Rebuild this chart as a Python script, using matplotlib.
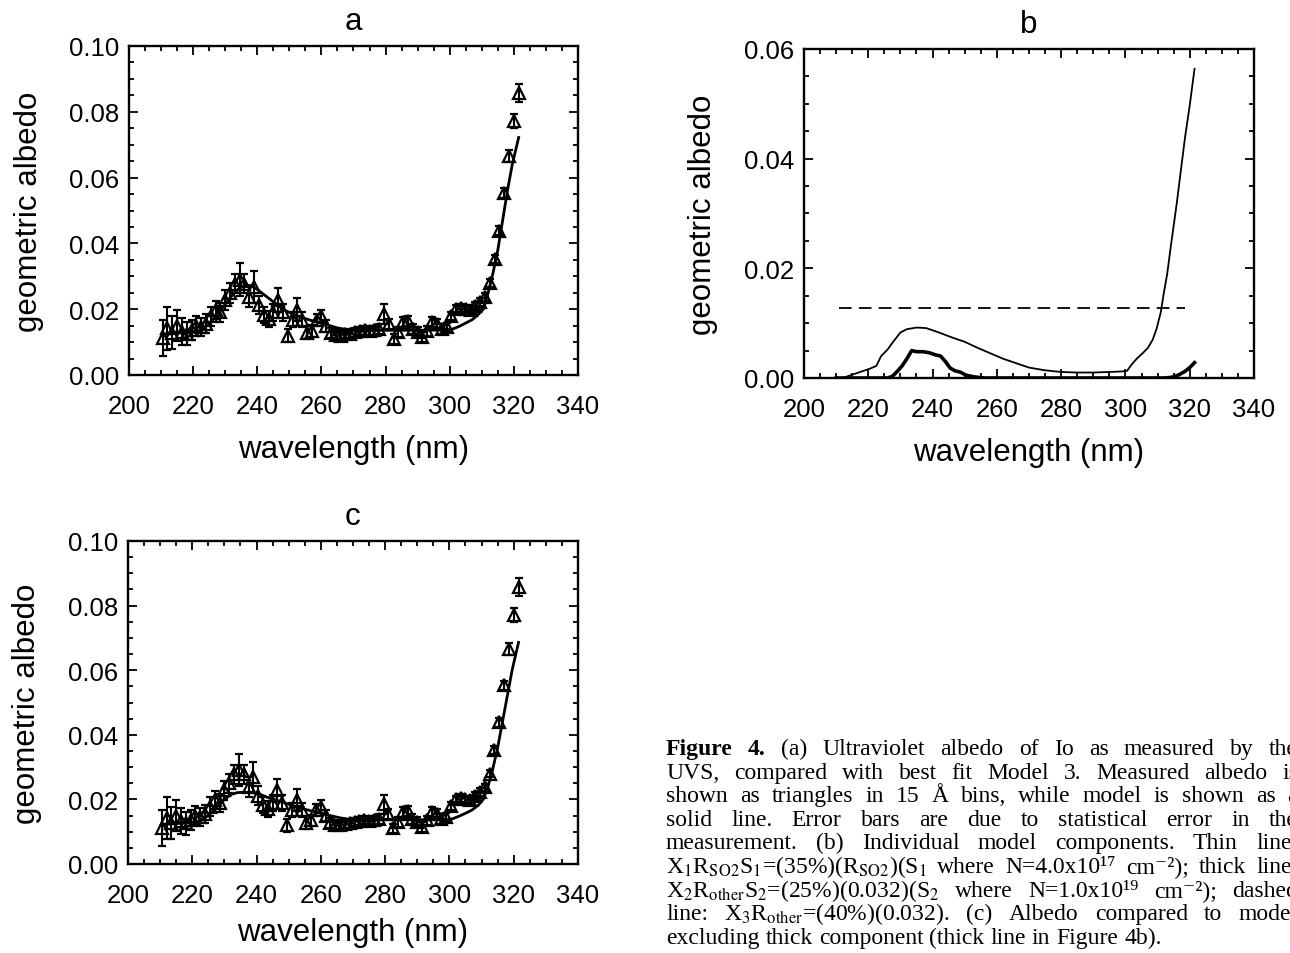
import matplotlib
matplotlib.use("Agg")
import matplotlib.pyplot as plt
from matplotlib.ticker import MultipleLocator, FormatStrFormatter

plt.rcParams['font.family'] = ['Liberation Sans', 'DejaVu Sans']
plt.rcParams['mathtext.fontset'] = 'stix'

# measured UVS albedo, 15 A bins (same data in panels a and c)
wavelength = [210.5, 212.0, 213.5, 215.0, 216.5, 218.0, 219.5, 221.0, 222.5, 224.0,
              225.5, 227.0, 228.5, 230.0, 231.5, 233.0, 234.5, 236.0, 237.5, 239.0,
              240.5, 242.0, 243.5, 245.0, 246.5, 248.0, 249.5, 251.0, 252.5, 254.0,
              255.5, 257.0, 258.5, 260.0, 261.5, 263.0, 264.5, 266.0, 267.5, 269.0,
              270.5, 272.0, 273.5, 275.0, 276.5, 278.0, 279.5, 281.0, 282.5, 284.0,
              285.5, 287.0, 288.5, 290.0, 291.5, 293.0, 294.5, 296.0, 297.5, 299.0,
              300.5, 302.0, 303.5, 305.0, 306.5, 308.0, 309.5, 311.0, 312.5, 314.0,
              315.5, 317.0, 318.5, 320.0, 321.5]
albedo = [0.0112, 0.0142, 0.0128, 0.0150, 0.0132, 0.0126, 0.0136, 0.0150, 0.0146, 0.0156,
          0.0178, 0.0198, 0.0190, 0.0228, 0.0250, 0.0278, 0.0290, 0.0278, 0.0238, 0.0268,
          0.0212, 0.0182, 0.0170, 0.0190, 0.0228, 0.0190, 0.0120, 0.0168, 0.0198, 0.0168,
          0.0128, 0.0135, 0.0168, 0.0178, 0.0150, 0.0128, 0.0122, 0.0120, 0.0124, 0.0126,
          0.0130, 0.0134, 0.0136, 0.0134, 0.0136, 0.0140, 0.0185, 0.0155, 0.0110, 0.0130,
          0.0160, 0.0165, 0.0140, 0.0130, 0.0115, 0.0135, 0.0160, 0.0155, 0.0140, 0.0145,
          0.0180, 0.0200, 0.0205, 0.0200, 0.0198, 0.0210, 0.0222, 0.0237, 0.0280, 0.0353,
          0.0439, 0.0553, 0.0666, 0.0772, 0.0858]
albedo_err = [0.0055, 0.0065, 0.0050, 0.0048, 0.0040, 0.0035, 0.0030, 0.0030, 0.0028, 0.0028,
              0.0030, 0.0028, 0.0028, 0.0030, 0.0030, 0.0030, 0.0050, 0.0030, 0.0030, 0.0048,
              0.0028, 0.0025, 0.0025, 0.0025, 0.0035, 0.0025, 0.0020, 0.0022, 0.0035, 0.0022,
              0.0020, 0.0018, 0.0018, 0.0020, 0.0018, 0.0015, 0.0014, 0.0014, 0.0013, 0.0013,
              0.0013, 0.0013, 0.0013, 0.0013, 0.0013, 0.0015, 0.0030, 0.0015, 0.0015, 0.0015,
              0.0015, 0.0015, 0.0015, 0.0015, 0.0015, 0.0015, 0.0015, 0.0015, 0.0015, 0.0013,
              0.0012, 0.0012, 0.0012, 0.0012, 0.0012, 0.0012, 0.0012, 0.0012, 0.0012, 0.0013,
              0.0014, 0.0015, 0.0018, 0.0022, 0.0028]

# best fit Model 3 (panel a) and model without thick component (panel c)
model_wl = [210.5, 213, 216, 219, 222, 225, 228, 230, 232, 234, 236, 238, 240, 242, 244,
            246, 248, 250, 253, 256, 259, 262, 265, 268, 272, 280, 290, 299, 301, 303,
            305, 307, 309, 310.5, 312, 313.5, 315, 316.5, 318, 319.5, 321.5]
model_a = [0.0125, 0.0125, 0.0128, 0.0130, 0.0135, 0.0155, 0.0190, 0.0215, 0.0240, 0.0260,
           0.0272, 0.0272, 0.0260, 0.0245, 0.0230, 0.0215, 0.0200, 0.0190, 0.0178, 0.0168,
           0.0160, 0.0152, 0.0143, 0.0138, 0.0136, 0.0136, 0.0136, 0.0137, 0.0140, 0.0148,
           0.0158, 0.0168, 0.0185, 0.0200, 0.0250, 0.0310, 0.0380, 0.0470, 0.0560, 0.0640,
           0.0722]
model_c = [0.0123, 0.0124, 0.0126, 0.0128, 0.0132, 0.0150, 0.0180, 0.0200, 0.0215, 0.0221,
           0.0222, 0.0222, 0.0220, 0.0212, 0.0204, 0.0198, 0.0192, 0.0185, 0.0175, 0.0167,
           0.0160, 0.0152, 0.0145, 0.0139, 0.0137, 0.0137, 0.0137, 0.0137, 0.0140, 0.0148,
           0.0157, 0.0167, 0.0182, 0.0200, 0.0240, 0.0295, 0.0360, 0.0440, 0.0520, 0.0600,
           0.0686]

# panel b: model components
thin_wl = [210, 212, 215, 218, 220.5, 222.5, 224, 226, 228, 230, 232, 235, 238, 242, 246,
           250, 254, 258, 262, 266, 270, 275, 280, 285, 290, 295, 299, 300.5, 302, 303.5,
           305.5, 307, 308.5, 309.7, 311, 311.8, 313, 314, 316, 318.5, 320, 321.5]
thin_line = [0.0, 0.0, 0.0006, 0.0012, 0.0017, 0.0022, 0.0040, 0.0052, 0.0068, 0.0083,
             0.0089, 0.0092, 0.0091, 0.0083, 0.0074, 0.0066, 0.0055, 0.0045, 0.0035, 0.0027,
             0.0019, 0.0014, 0.0011, 0.0010, 0.0010, 0.0011, 0.0012, 0.0013, 0.0025, 0.0035,
             0.0046, 0.0055, 0.0070, 0.0090, 0.0120, 0.0150, 0.0190, 0.0235, 0.0320, 0.0437,
             0.0497, 0.0564]
thick_wl = [210, 226, 227.5, 229, 230.5, 232, 233.5, 235, 237, 239, 241, 242.5, 244, 245.5,
            247, 248.5, 250.5, 253, 256, 280, 312, 314, 315.5, 317, 318.5, 320, 321.5]
thick_line = [0.0, 0.0, 0.0003, 0.0012, 0.0022, 0.0035, 0.0050, 0.0048, 0.0048, 0.0046,
              0.0042, 0.0040, 0.0030, 0.0018, 0.0013, 0.0011, 0.0005, 0.0002, 0.0, 0.0,
              0.0, 0.0001, 0.0003, 0.0007, 0.0012, 0.0019, 0.0028]
dashed_wl = [210.8, 318.5]
dashed_line = [0.0128, 0.0128]

caption_lines = [
    "Figure 4.  (a) Ultraviolet albedo of Io as measured by the",
    "UVS, compared with best fit Model 3.  Measured albedo is",
    "shown as triangles in 15 Å bins, while model is shown as a",
    "solid line.  Error bars are due to statistical error in the",
    "measurement. (b) Individual model components.  Thin line:",
    r"X$_1$R$_{\mathrm{SO2}}$S$_1$=(35%)(R$_{\mathrm{SO2}}$)(S$_1$ where N=4.0x10¹⁷ cm⁻²); thick line:",
    r"X$_2$R$_{\mathrm{other}}$S$_2$=(25%)(0.032)(S$_2$ where N=1.0x10¹⁹ cm⁻²); dashed",
    r"line:  X$_3$R$_{\mathrm{other}}$=(40%)(0.032).  (c) Albedo compared to model",
    "excluding thick component (thick line in Figure 4b).",
]

W, H = 1290, 954
fig = plt.figure(figsize=(W / 100, H / 100), dpi=100)


def make_axes(left, top, right, bottom):
    return fig.add_axes([left / W, 1 - bottom / H, (right - left) / W, (bottom - top) / H])


def style(ax, title, ymax, ystep, xlab_y):
    ax.set_xlim(200, 340)
    ax.set_ylim(0, ymax)
    ax.xaxis.set_major_locator(MultipleLocator(20))
    ax.xaxis.set_minor_locator(MultipleLocator(5))
    ax.yaxis.set_major_locator(MultipleLocator(ystep))
    ax.yaxis.set_minor_locator(MultipleLocator(ystep / 4))
    ax.yaxis.set_major_formatter(FormatStrFormatter('%.2f'))
    ax.tick_params(which='both', direction='in', top=True, right=True, width=1.3)
    ax.tick_params(which='major', length=6.5)
    ax.tick_params(which='minor', length=3.5)
    ax.tick_params(axis='x', pad=14, labelsize=18.5)
    ax.tick_params(axis='y', pad=7, labelsize=18.5)
    for s in ax.spines.values():
        s.set_linewidth(1.7)
    ax.set_title(title, fontsize=22.5, pad=12)
    ax.set_xlabel('wavelength (nm)', fontsize=22.5)
    ax.set_ylabel('geometric albedo', fontsize=22.5)
    ax.xaxis.set_label_coords(0.5, xlab_y)
    ax.yaxis.set_label_coords(-0.19, 0.5)


def data_panel(ax, model):
    ax.errorbar(wavelength, albedo, yerr=albedo_err, fmt='^', ms=9, mfc='none', mec='k',
                mew=1.6, ecolor='k', elinewidth=1.5, capsize=3, capthick=1.5)
    ax.plot(model_wl, model, color='k', lw=2)


ax_a = make_axes(129, 47, 578, 376)
data_panel(ax_a, model_a)
style(ax_a, 'a', 0.10, 0.02, -0.18)

ax_b = make_axes(804, 50, 1254, 379)
ax_b.plot(thin_wl, thin_line, color='k', lw=1.3)
ax_b.plot(thick_wl, thick_line, color='k', lw=2.6)
ax_b.plot(dashed_wl, dashed_line, color='k', lw=1.3, dashes=(7, 4))
style(ax_b, 'b', 0.06, 0.02, -0.18)

ax_c = make_axes(128, 542, 578, 865)
data_panel(ax_c, model_c)
style(ax_c, 'c', 0.10, 0.02, -0.165)

# caption, justified word by word
cap_left, cap_right = 666, 1298
cap_first, cap_step = 755, 23.6
fig.canvas.draw()
renderer = fig.canvas.get_renderer()
for i, line in enumerate(caption_lines):
    words = line.split()
    y = 1 - (cap_first + i * cap_step) / H
    texts = []
    for j, w in enumerate(words):
        bold = (i == 0 and j < 2)
        t = fig.text(0, y, w, fontsize=17, family=['Liberation Serif', 'DejaVu Serif'],
                     weight='bold' if bold else 'normal', va='baseline')
        texts.append(t)
    widths = [t.get_window_extent(renderer).width for t in texts]
    if i == len(caption_lines) - 1:
        gap = 6.0
    else:
        gap = max(4.0, (cap_right - cap_left - sum(widths)) / (len(words) - 1))
    x = cap_left
    for t, wd in zip(texts, widths):
        t.set_x(x / W)
        x += wd + gap

fig.savefig('out.png', dpi=100)
